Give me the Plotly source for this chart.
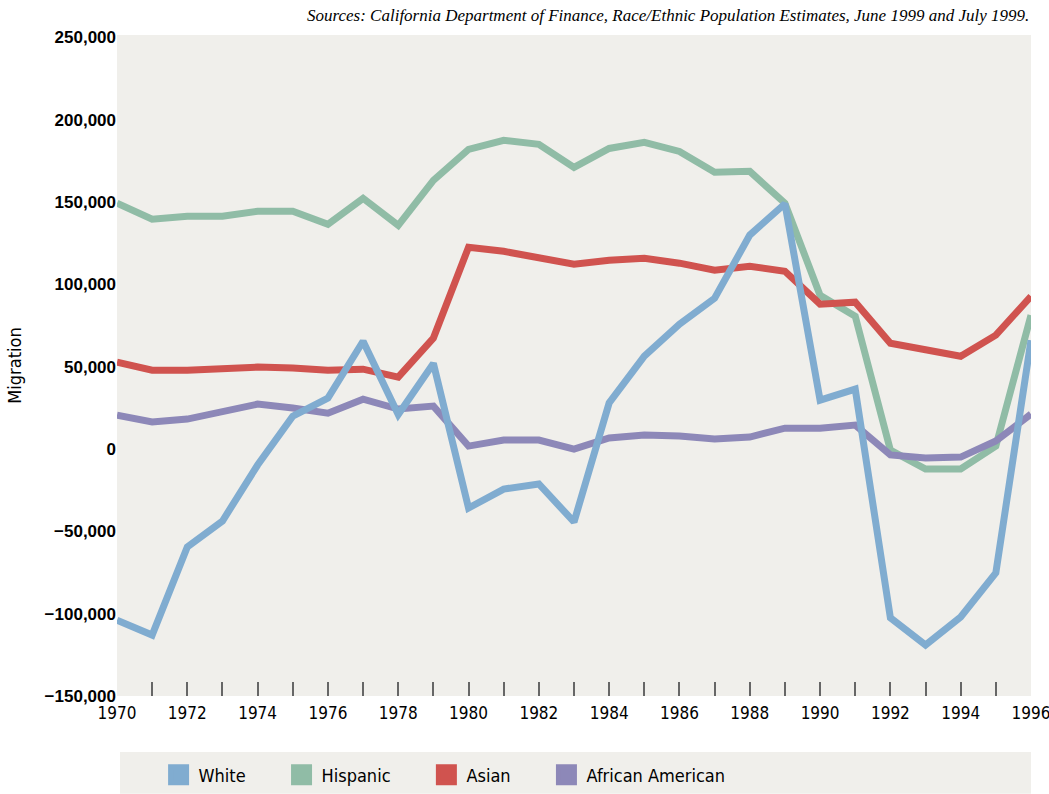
import plotly.graph_objects as go

years = list(range(1970, 1997))
label_years = list(range(1970, 1997, 2))
tick_years = list(range(1971, 1996))

series_names = ["White", "Hispanic", "Asian", "African American"]
white = [-104000, -113000, -59500, -43700, -9700, 20000, 31000, 65500, 21000, 52000,
         -35800, -24300, -21200, -44300, 28000, 56400, 75800, 91600, 130000, 149000,
         29700, 36400, -102500, -119000, -102000, -75200, 66100]
hispanic = [149300, 139600, 141400, 141400, 144400, 144400, 136500, 152300, 135900, 163200,
            182000, 187500, 185100, 171100, 182600, 186300, 180800, 168100, 168700, 149300,
            93400, 80700, -600, -12100, -12100, 1800, 81300]
asian = [52800, 47900, 47900, 48500, 49800, 49200, 47900, 48500, 43700, 67400,
         122600, 120100, 116500, 112300, 114700, 115900, 112900, 108600, 111000, 108000,
         88000, 89200, 64300, 60100, 56400, 69200, 92800]
african_american = [20600, 16400, 18200, 22500, 27300, 24900, 21800, 30300, 24300, 26100,
                    1800, 5500, 5500, 0, 6700, 8500, 7900, 6100, 7300, 12700,
                    12700, 14600, -3600, -5500, -4900, 4900, 21200]

colors = {"White": "#80acd0", "Hispanic": "#90bca6", "Asian": "#d0534f",
          "African American": "#8d88b8"}
values = {"White": white, "Hispanic": hispanic, "Asian": asian,
          "African American": african_american}

NARROW = "Liberation Sans Narrow, DejaVu Sans Condensed, Arial Narrow, sans-serif"

fig = go.Figure()
# draw order: white on top
for name in ["Hispanic", "Asian", "African American", "White"]:
    fig.add_trace(go.Scatter(x=years, y=values[name], mode="lines", name=name,
                             line=dict(color=colors[name], width=7),
                             showlegend=False, hoverinfo="x+y+name"))
# legend entries (square swatches)
for name in series_names:
    fig.add_trace(go.Scatter(x=[None], y=[None], mode="markers", name=name + "      ",
                             xaxis="x2",
                             marker=dict(symbol="square", size=16, color=colors[name],
                                         line=dict(color=colors[name], width=5)),
                             showlegend=True))

fig.update_layout(
    width=1049, height=794,
    margin=dict(l=117, r=18, t=35, b=98, autoexpand=False),
    paper_bgcolor="white",
    plot_bgcolor="#f0efeb",
    font=dict(family="Liberation Sans, Arial, sans-serif", color="black"),
    xaxis=dict(range=[1970, 1996], tickmode="array", tickvals=tick_years,
               showticklabels=False, ticks="inside", ticklen=14, tickwidth=1.5,
               tickcolor="#666666", showgrid=False, zeroline=False, showline=False,
               automargin=False),
    xaxis2=dict(overlaying="x", matches="x", anchor="y", side="bottom",
                range=[1970, 1996], tickmode="array", tickvals=label_years,
                ticktext=[str(y) for y in label_years], ticks="",
                ticklabeloverflow="allow", automargin=False, ticklabelstandoff=5,
                tickfont=dict(family=NARROW, size=17, color="black"),
                showgrid=False, zeroline=False, showline=False),
    yaxis=dict(range=[-150000, 251500], tickmode="array",
               tickvals=list(range(-150000, 250001, 50000)), tickformat=",",
               tickfont=dict(family="Liberation Sans, Arial, sans-serif", size=17,
                             weight="bold", color="black"),
               showgrid=False, zeroline=False, showline=False, ticks="",
               automargin=False,
               title=dict(text="Migration", font=dict(family=NARROW, size=18),
                          standoff=18)),
    legend=dict(orientation="h", x=0.0455, xanchor="left", y=-0.1195, yanchor="middle",
                bgcolor="rgba(0,0,0,0)", font=dict(family=NARROW, size=18),
                itemclick=False, itemdoubleclick=False),
    shapes=[dict(type="rect", xref="paper", yref="paper", x0=0.0033, x1=1.0,
                 y0=-0.148, y1=-0.0847, fillcolor="#f0efeb", line=dict(width=0),
                 layer="below")],
    annotations=[dict(text="Sources: California Department of Finance, Race/Ethnic Population Estimates, June 1999 and July 1999.",
                      xref="paper", yref="paper", x=1.0, y=1.0, xanchor="right",
                      yanchor="bottom", yshift=8, showarrow=False,
                      font=dict(family="Liberation Serif, serif", size=17, style="italic",
                                color="black"))],
)

fig.write_html("out.html", config={"displayModeBar": False},
               post_script="document.body.style.margin='0px';")
